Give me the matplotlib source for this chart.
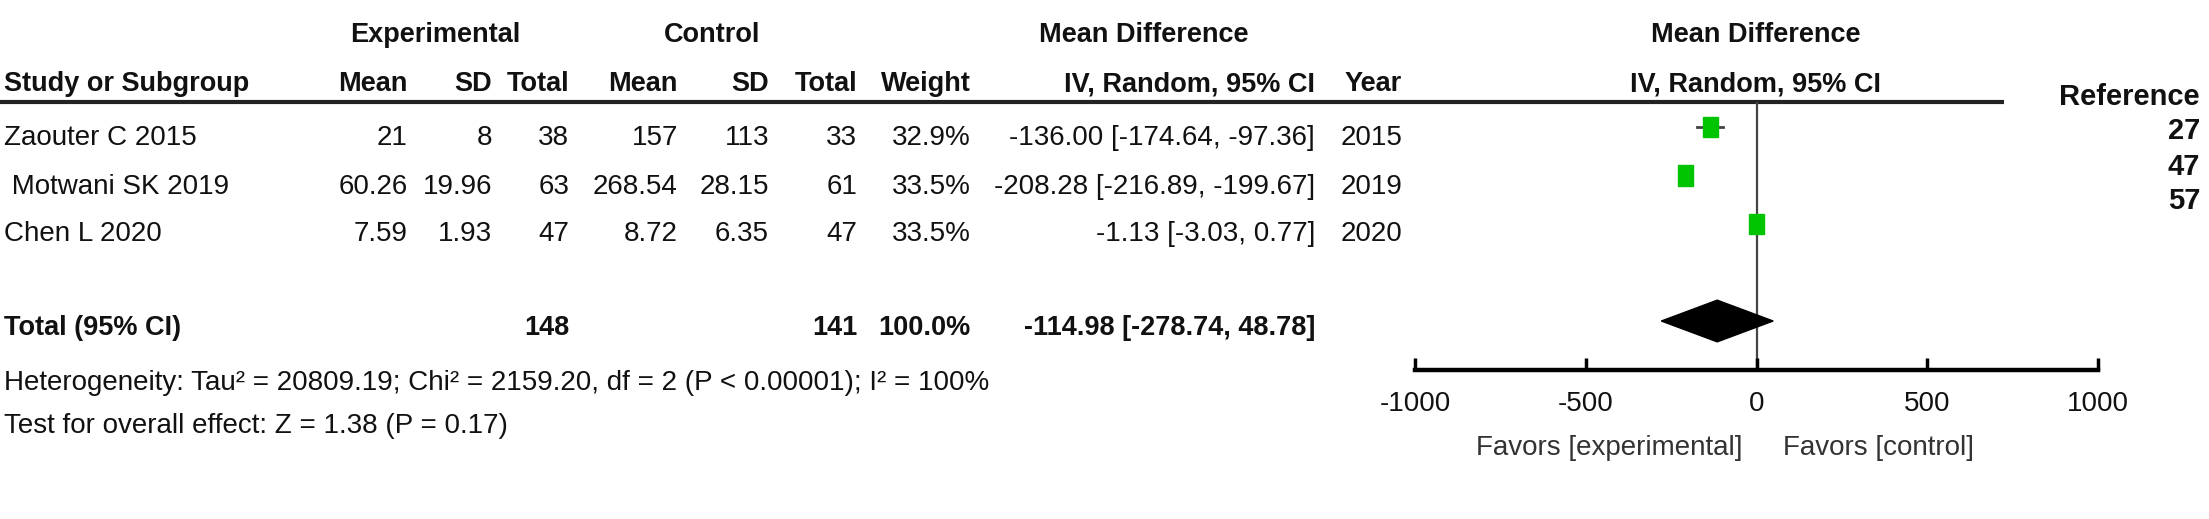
import matplotlib.pyplot as plt
from matplotlib.patches import Rectangle, Polygon

plt.rcParams['font.family'] = ['Liberation Sans', 'DejaVu Sans']
plt.rcParams['axes.unicode_minus'] = False

# --- datos del forest plot ---
studies = ['Zaouter C 2015', ' Motwani SK 2019', 'Chen L 2020']
exp_mean = [21, 60.26, 7.59]
exp_sd = [8, 19.96, 1.93]
exp_n = [38, 63, 47]
ctl_mean = [157, 268.54, 8.72]
ctl_sd = [113, 28.15, 6.35]
ctl_n = [33, 61, 47]
weights = [32.9, 33.5, 33.5]
md = [-136.00, -208.28, -1.13]
ci_low = [-174.64, -216.89, -3.03]
ci_high = [-97.36, -199.67, 0.77]
years = [2015, 2019, 2020]
refs = [27, 47, 57]

total_exp_n = 148
total_ctl_n = 141
total_weight = 100.0
total_md = -114.98
total_low = -278.74
total_high = 48.78
heterogeneity = 'Heterogeneity: Tau² = 20809.19; Chi² = 2159.20, df = 2 (P < 0.00001); I² = 100%'
overall = 'Test for overall effect: Z = 1.38 (P = 0.17)'

ticks = [-1000, -500, 0, 500, 1000]

W, H = 2209, 519
fig = plt.figure(figsize=(W / 100, H / 100), dpi=100)

# capa de la tabla, en pixeles (y hacia abajo)
tab = fig.add_axes([0, 0, 1, 1])
tab.set_xlim(0, W)
tab.set_ylim(H, 0)
tab.axis('off')

fs = 20
txt = dict(fontsize=fs, color='#111', va='baseline')
bold = dict(txt, fontweight='bold', fontsize=19.5)

# cabecera
y_h1, y_h2 = 42, 91
tab.text(435, y_h1, 'Experimental', ha='center', **bold)
tab.text(712, y_h1, 'Control', ha='center', **bold)
tab.text(1144, y_h1, 'Mean Difference', ha='center', **bold)
tab.text(1756, y_h1, 'Mean Difference', ha='center', **bold)

cols = {'exp_mean': 408, 'exp_sd': 492, 'exp_n': 569, 'ctl_mean': 678,
        'ctl_sd': 769, 'ctl_n': 857, 'weight': 971, 'md': 1315, 'year': 1402}
tab.text(4, y_h2, 'Study or Subgroup', ha='left', **bold)
for key, lab in [('exp_mean', 'Mean'), ('exp_sd', 'SD'), ('exp_n', 'Total'),
                 ('ctl_mean', 'Mean'), ('ctl_sd', 'SD'), ('ctl_n', 'Total'),
                 ('weight', 'Weight'), ('md', 'IV, Random, 95% CI'), ('year', 'Year')]:
    tab.text(cols[key], y_h2, lab, ha='right', **bold)
tab.text(1756, y_h2, 'IV, Random, 95% CI', ha='center', **bold)
tab.plot([0, 2004], [102, 102], color='#222', lw=3, solid_capstyle='butt')

# filas de estudios
row_y = [145, 194, 241]
for i, y in enumerate(row_y):
    tab.text(4, y, studies[i], ha='left', **txt)
    tab.text(cols['exp_mean'], y, f'{exp_mean[i]:g}', ha='right', **txt)
    tab.text(cols['exp_sd'], y, f'{exp_sd[i]:g}', ha='right', **txt)
    tab.text(cols['exp_n'], y, f'{exp_n[i]}', ha='right', **txt)
    tab.text(cols['ctl_mean'], y, f'{ctl_mean[i]:g}', ha='right', **txt)
    tab.text(cols['ctl_sd'], y, f'{ctl_sd[i]:g}', ha='right', **txt)
    tab.text(cols['ctl_n'], y, f'{ctl_n[i]}', ha='right', **txt)
    tab.text(cols['weight'], y, f'{weights[i]:.1f}%', ha='right', **txt)
    tab.text(cols['md'], y, f'{md[i]:.2f} [{ci_low[i]:.2f}, {ci_high[i]:.2f}]', ha='right', **txt)
    tab.text(cols['year'], y, f'{years[i]}', ha='right', **txt)

# columna de referencias (a la derecha)
ref_style = dict(bold, fontsize=21)
tab.text(2200, 105, 'Reference', ha='right', **ref_style)
for y, r in zip([139, 175, 209], refs):
    tab.text(2200, y, f'{r}', ha='right', **ref_style)

# fila total
y_tot = 335
tab.text(4, y_tot, 'Total (95% CI)', ha='left', **bold)
tab.text(cols['exp_n'], y_tot, f'{total_exp_n}', ha='right', **bold)
tab.text(cols['ctl_n'], y_tot, f'{total_ctl_n}', ha='right', **bold)
tab.text(cols['weight'], y_tot, f'{total_weight:.1f}%', ha='right', **bold)
tab.text(cols['md'], y_tot, f'{total_md:.2f} [{total_low:.2f}, {total_high:.2f}]', ha='right', **bold)
tab.text(4, 390, heterogeneity, ha='left', **txt)
tab.text(4, 433, overall, ha='left', **txt)

# --- forest plot ---
x0, x1, ytop, ybot = 1415, 2098, 102, 370
fa = fig.add_axes([x0 / W, 1 - ybot / H, (x1 - x0) / W, (ybot - ytop) / H])
fa.set_xlim(-1000, 1000)
fa.set_ylim(5.01, -0.515)
fa.patch.set_alpha(0)
for s in ['top', 'left', 'right']:
    fa.spines[s].set_visible(False)
fa.spines['bottom'].set_linewidth(3.2)
fa.set_yticks([])
fa.set_xticks(ticks)
fa.tick_params(axis='x', direction='in', length=9, width=2.5, pad=15,
               labelsize=fs, labelcolor='#111')
fa.axvline(0, color='#444', lw=1.6, zorder=1)

sq_w, sq_h = 44, 0.43
for i in range(len(md)):
    fa.plot([ci_low[i], ci_high[i]], [i, i], color='#444', lw=2, zorder=2)
    k = (weights[i] / max(weights)) ** 0.5
    fa.add_patch(Rectangle((md[i] - sq_w * k / 2, i - sq_h * k / 2), sq_w * k, sq_h * k,
                           color='#00c400', zorder=3))

y_d = 4
fa.add_patch(Polygon([(total_low, y_d), (total_md, y_d - 0.43),
                      (total_high, y_d), (total_md, y_d + 0.43)],
                     closed=True, color='black', zorder=3))

tab.text(1742, 455, 'Favors [experimental]', ha='right', fontsize=fs, color='#333', va='baseline')
tab.text(1783, 455, 'Favors [control]', ha='left', fontsize=fs, color='#333', va='baseline')

fig.savefig('out.png', dpi=100)
